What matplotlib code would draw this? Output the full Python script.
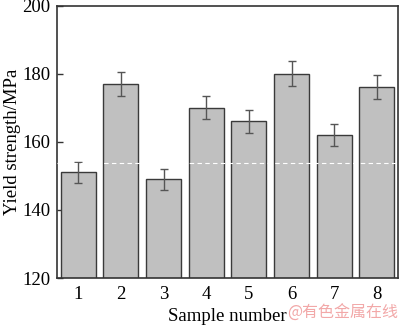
import matplotlib.pyplot as plt

# sample numbers and yield strength (MPa)
samples = [1, 2, 3, 4, 5, 6, 7, 8]
strength = [151, 177, 149, 170, 166, 180, 162, 176]
errors = [3.1, 3.6, 3.1, 3.4, 3.4, 3.6, 3.3, 3.5]
mean_line = 153.8

plt.rcParams['font.family'] = ['Liberation Serif', 'DejaVu Serif']

fig = plt.figure(figsize=(4.0, 3.26), dpi=100)
ax = fig.add_axes([0.1425, 0.147, 0.853, 0.836])

ax.bar(samples, strength, width=0.82, color='#c0c0c0', edgecolor='#3a3a3a',
       linewidth=1.0, zorder=2)
ax.errorbar(samples, strength, yerr=errors, fmt='none', ecolor='#555555',
            elinewidth=1.0, capsize=3, capthick=1.0, zorder=3)
ax.axhline(mean_line, color='white', linestyle='--', linewidth=0.8,
           dashes=(4, 3), zorder=4)

ax.set_xlim(0.5, 8.5)
ax.set_ylim(120, 200)
ax.set_xticks(samples)
ax.set_yticks([120, 140, 160, 180, 200])
ax.tick_params(direction='in', labelsize=13.5, length=4, width=1, color='#333333')
ax.tick_params(axis='x', length=0, pad=6)
ax.tick_params(axis='y', pad=5)
for s in ax.spines.values():
    s.set_color('#333333')
    s.set_linewidth(1.2)

ax.set_xlabel('Sample number', fontsize=13.5, labelpad=3)
ax.set_ylabel('Yield strength/MPa', fontsize=13.5)
ax.yaxis.set_label_coords(-0.105, 0.5)

fig.text(0.995, 0.012, '@有色金属在线', color='#f2a8a8', fontsize=11.5,
         ha='right', va='bottom', family=['Noto Sans CJK SC', 'DejaVu Sans'])

fig.savefig('out.png', dpi=100)
